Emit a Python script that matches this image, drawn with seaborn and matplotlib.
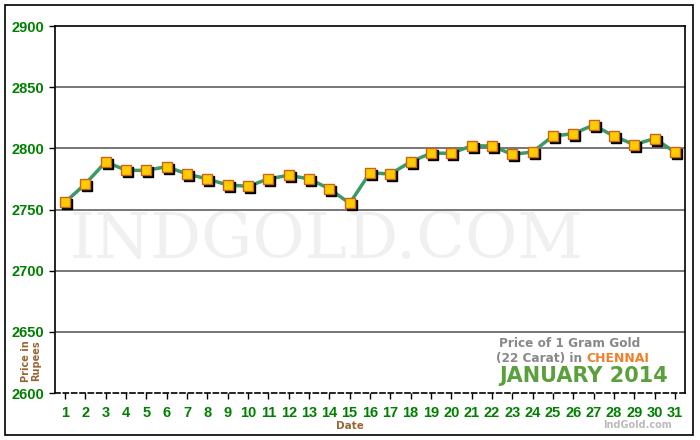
import numpy as np
import matplotlib
matplotlib.use("Agg")
import matplotlib.pyplot as plt
import matplotlib.transforms as mtransforms
from matplotlib.patches import Rectangle
import pandas as pd
import seaborn as sns

days = list(range(1, 32))
price = [2756, 2771, 2789, 2782, 2782, 2785, 2779, 2775, 2770, 2769,
         2775, 2778, 2775, 2767, 2755, 2780, 2779, 2789, 2796, 2796,
         2802, 2802, 2795, 2797, 2810, 2812, 2819, 2810, 2803, 2808, 2797]
y_ticks = [2600, 2650, 2700, 2750, 2800, 2850, 2900]

df = pd.DataFrame({"day": days, "price": price})

sns.set_style("white")
plt.rcParams['font.family'] = ['Liberation Sans', 'DejaVu Sans']

fig = plt.figure(figsize=(7, 4.4), dpi=100)
ax = fig.add_axes([55/700, 47/440, 630/700, 367/440])

# outer frame
fig.patches.append(Rectangle((5/700, 5/440), 688/700, 430/440, transform=fig.transFigure,
                             fill=False, edgecolor="black", linewidth=1.2))

# watermark
ax.text(0.43, 0.417, "INDGOLD.COM", transform=ax.transAxes, ha="center", va="center",
        fontsize=46, family="DejaVu Serif", color="#f0f0f0", zorder=0)

for y in [2650, 2700, 2750, 2800, 2850]:
    ax.axhline(y, color="#777777", linewidth=1.4, zorder=1)

shadow = mtransforms.offset_copy(ax.transData, fig=fig, x=2, y=-2, units="dots")
sns.lineplot(data=df, x="day", y="price", ax=ax, color="#3a9a68", linewidth=2.5, zorder=2)
ax.plot(df["day"], df["price"], "s", color="black", markersize=6.8, transform=shadow, zorder=3)
ax.plot(df["day"], df["price"], "s", markerfacecolor="#ffcc00", markeredgecolor="#c8641e",
        markeredgewidth=1, markersize=6.8, zorder=4)

ax.set_xlim(0.5, 31.5)
ax.set_ylim(2600, 2900)
ax.set_xticks(days)
ax.set_yticks(y_ticks)
ax.tick_params(axis="both", direction="out", length=4, width=1, color="black",
               labelcolor="#008000", labelsize=10.5, bottom=True, left=True)
for lab in ax.get_xticklabels() + ax.get_yticklabels():
    lab.set_fontweight("bold")
ax.tick_params(axis="x", pad=5)

for s in ax.spines.values():
    s.set_color("black")
    s.set_linewidth(1.2)
ax.spines["bottom"].set_linestyle((0, (3, 2)))
ax.set_xlabel("")
ax.set_ylabel("")

fig.text(350/700, 1 - 425.5/440, "Date", ha="center", va="center", fontsize=7.5,
         fontweight="bold", color="#996633", family="DejaVu Sans")
fig.text(31/700, 1 - 361/440, "Price in\nRupees", ha="center", va="center", fontsize=7,
         fontweight="bold", color="#996633", rotation=90, linespacing=1.05,
         family="DejaVu Sans")

leg_font = "DejaVu Sans"
ax.text(0.929, 0.134, "Price of 1 Gram Gold", transform=ax.transAxes, ha="right", va="center",
        fontsize=8.7, fontweight="bold", color="#888888", family=leg_font)
chennai = ax.text(0.944, 0.095, "CHENNAI", transform=ax.transAxes, ha="right", va="center",
                  fontsize=9, fontweight="bold", color="#f07f2a", family="Liberation Sans Narrow")
ax.annotate("(22 Carat) in ", xy=(0, 0.5), xycoords=chennai, ha="right", va="center",
            fontsize=8.7, fontweight="bold", color="#888888", family=leg_font)
ax.text(0.973, 0.047, "JANUARY 2014", transform=ax.transAxes, ha="right", va="center",
        fontsize=15, fontweight="bold", color="#5aa03c", family=leg_font)
fig.text(672/700, 1 - 425/440, "IndGold.com", ha="right", va="center", fontsize=7,
         fontweight="bold", color="#bbbbbb", family=leg_font)

fig.savefig("out.png", dpi=100)
